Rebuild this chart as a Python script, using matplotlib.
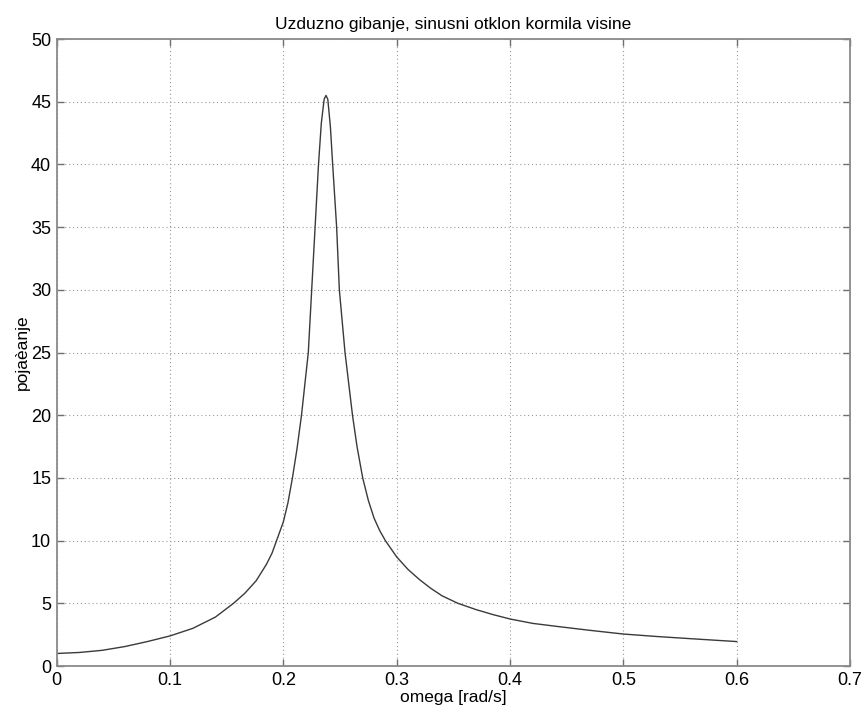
import matplotlib

matplotlib.use("Agg")
import matplotlib.pyplot as plt

# Frequency response of the longitudinal motion for a sinusoidal elevator input
omega = [0.0, 0.02, 0.04, 0.06, 0.08, 0.1, 0.12, 0.14, 0.156, 0.166, 0.176,
         0.185, 0.19, 0.194, 0.2, 0.204, 0.208, 0.212, 0.216, 0.219, 0.222,
         0.225, 0.228, 0.231, 0.2335, 0.236, 0.2376, 0.2392, 0.2415, 0.2435,
         0.247, 0.2494, 0.2544, 0.261, 0.265, 0.270, 0.275, 0.280, 0.285,
         0.290, 0.300, 0.310, 0.320, 0.330, 0.340, 0.354, 0.370, 0.385, 0.400,
         0.420, 0.444, 0.470, 0.500, 0.530, 0.568, 0.600]
gain = [1.0, 1.08, 1.25, 1.55, 1.95, 2.4, 3.0, 3.9, 5.0, 5.8, 6.8,
        8.1, 9.0, 10.0, 11.5, 13.0, 15.0, 17.3, 20.0, 22.5, 25.0,
        30.0, 35.0, 40.0, 43.3, 45.2, 45.5, 45.2, 43.0, 40.0,
        35.0, 30.0, 25.0, 20.0, 17.5, 15.0, 13.2, 11.8, 10.8,
        10.0, 8.7, 7.7, 6.9, 6.2, 5.6, 5.0, 4.5, 4.1, 3.75,
        3.4, 3.13, 2.85, 2.55, 2.35, 2.13, 1.95]

x_ticks = [0, 0.1, 0.2, 0.3, 0.4, 0.5, 0.6, 0.7]
x_tick_labels = ["0", "0.1", "0.2", "0.3", "0.4", "0.5", "0.6", "0.7"]
y_ticks = [0, 5, 10, 15, 20, 25, 30, 35, 40, 45, 50]

plt.rcParams["font.family"] = ["Liberation Sans", "DejaVu Sans"]

fig = plt.figure(figsize=(8.66, 7.13), dpi=100)
ax = fig.add_axes([0.0655, 0.0659, 0.916, 0.8794])

ax.plot(omega, gain, color="#3a3a3a", linewidth=1.0)

ax.set_xlim(0, 0.7)
ax.set_ylim(0, 50)
ax.set_xticks(x_ticks)
ax.set_xticklabels(x_tick_labels)
ax.set_yticks(y_ticks)

ax.grid(True, linestyle=(0, (1, 2.5)), color="#9a9a9a", linewidth=0.8)
ax.tick_params(direction="in", length=5, width=1, color="#707070",
               top=True, right=True, labelsize=13, pad=4)
for spine in ax.spines.values():
    spine.set_color("#8a8a8a")
    spine.set_linewidth(1.3)

ax.set_title("Uzduzno gibanje, sinusni otklon kormila visine", fontsize=12.5, pad=7)
ax.set_xlabel("omega [rad/s]", fontsize=12.5, labelpad=1)
ax.set_ylabel("pojaèanje", fontsize=12.5, labelpad=1)

fig.savefig("out.png", dpi=100)
plt.close(fig)
